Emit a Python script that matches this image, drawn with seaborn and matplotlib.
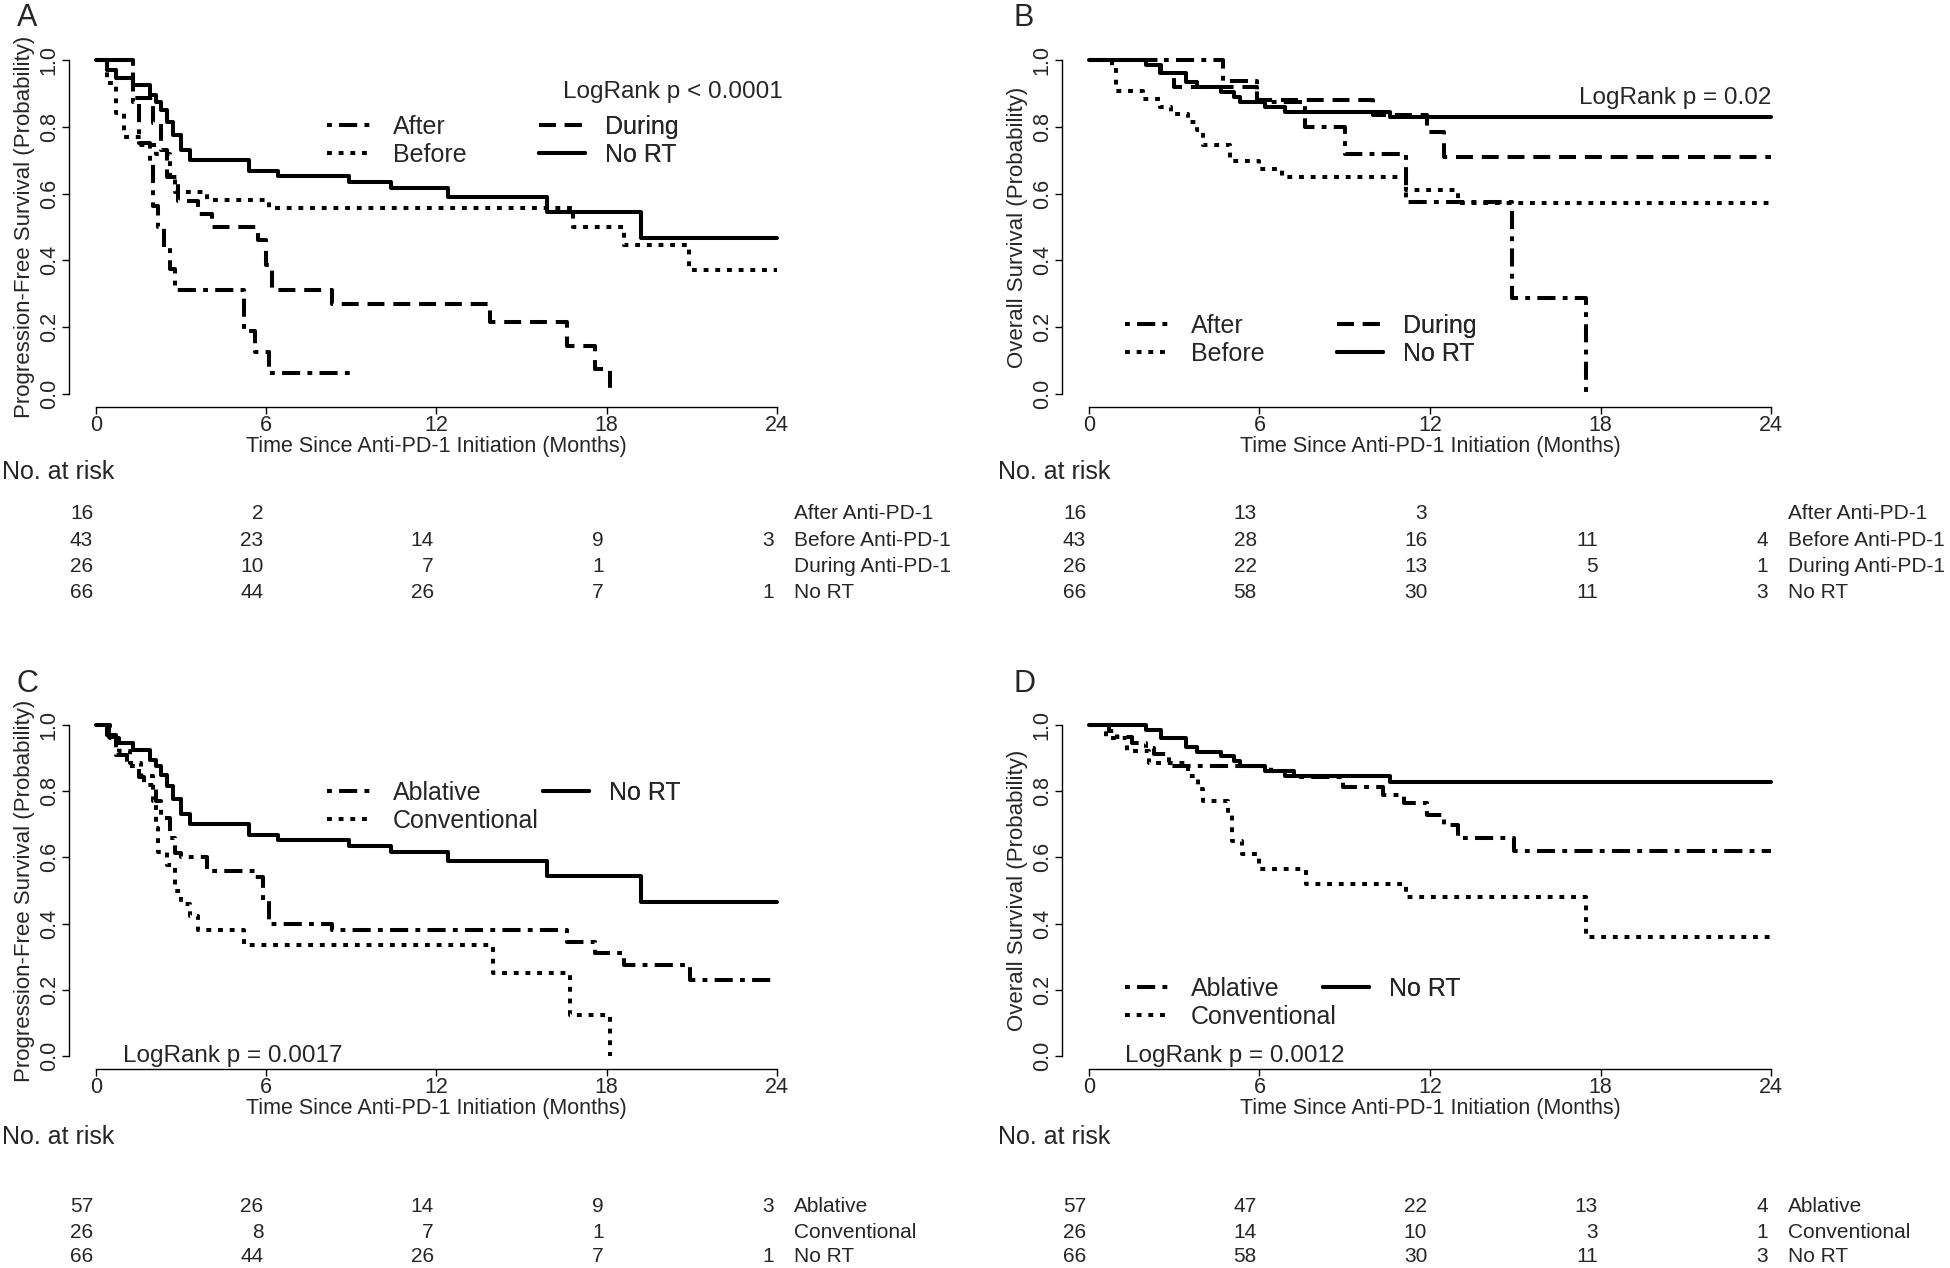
import matplotlib
matplotlib.use('Agg')
import matplotlib.pyplot as plt
import matplotlib.transforms as mtransforms
from matplotlib.lines import Line2D
import seaborn as sns

# ---------------- data ----------------
tick_months = [0, 6, 12, 18, 24]

# progression-free survival, timing groups
pfs_after_t = [0, 1.3, 1.5, 1.9, 2.0, 2.2, 2.4, 2.6, 2.8, 3.0, 5.2, 5.6, 6.1, 9.0]
pfs_after_s = [1.0, 0.875, 0.75, 0.6875, 0.5625, 0.5, 0.4375, 0.375, 0.3125, 0.3125, 0.1875, 0.125, 0.0625, 0.0625]
pfs_before_t = [0, 0.4, 0.7, 1.0, 1.6, 2.1, 2.6, 2.8, 3.9, 6.1, 16.8, 18.6, 20.9, 24]
pfs_before_s = [1.0, 0.93, 0.84, 0.77, 0.745, 0.72, 0.65, 0.605, 0.58, 0.557, 0.50, 0.445, 0.37, 0.37]
pfs_during_t = [0, 1.3, 2.0, 2.3, 2.5, 2.9, 3.6, 4.1, 5.7, 6.0, 6.2, 8.3, 13.9, 16.6, 17.6, 18.1]
pfs_during_s = [1.0, 0.885, 0.81, 0.73, 0.65, 0.577, 0.54, 0.50, 0.46, 0.385, 0.31, 0.27, 0.215, 0.145, 0.075, 0.0]
pfs_nort_t = [0, 0.4, 0.7, 1.3, 1.9, 2.1, 2.3, 2.5, 2.7, 3.0, 3.3, 5.4, 6.4, 8.9, 10.4, 12.4, 15.9, 19.2, 24]
pfs_nort_s = [1.0, 0.97, 0.945, 0.925, 0.895, 0.875, 0.85, 0.815, 0.775, 0.73, 0.70, 0.667, 0.652, 0.635, 0.617, 0.59, 0.544, 0.466, 0.466]

# overall survival, timing groups
os_after_t = [0, 4.7, 5.9, 7.6, 9.0, 11.15, 14.9, 17.5]
os_after_s = [1.0, 0.9375, 0.875, 0.80, 0.72, 0.576, 0.288, 0.0]
os_before_t = [0, 0.8, 0.95, 1.9, 2.5, 2.9, 3.5, 3.8, 4.0, 4.95, 6.0, 6.8, 11.15, 13.0, 24]
os_before_s = [1.0, 0.977, 0.907, 0.884, 0.86, 0.837, 0.814, 0.79, 0.744, 0.698, 0.674, 0.651, 0.612, 0.573, 0.573]
os_during_t = [0, 2.5, 3.0, 5.9, 10.0, 11.9, 12.5, 24]
os_during_s = [1.0, 0.96, 0.92, 0.88, 0.835, 0.785, 0.71, 0.71]
os_nort_t = [0, 2.0, 2.55, 3.4, 3.8, 4.65, 5.1, 5.3, 6.2, 6.9, 10.6, 24]
os_nort_s = [1.0, 0.985, 0.96, 0.935, 0.92, 0.905, 0.89, 0.875, 0.86, 0.845, 0.828, 0.828]

# progression-free survival, dose groups
pfs_abl_t = [0, 0.45, 0.7, 1.1, 1.5, 1.7, 2.1, 2.3, 2.6, 2.8, 3.0, 3.9, 5.6, 5.9, 6.1, 8.3, 16.6, 17.6, 18.6, 20.95, 24]
pfs_abl_s = [1.0, 0.965, 0.91, 0.877, 0.842, 0.82, 0.77, 0.72, 0.66, 0.614, 0.60, 0.56, 0.54, 0.47, 0.40, 0.38, 0.345, 0.31, 0.275, 0.23, 0.23]
pfs_conv_t = [0, 0.5, 0.8, 1.2, 1.6, 2.0, 2.1, 2.2, 2.5, 2.8, 3.0, 3.3, 3.6, 5.2, 14.0, 16.7, 18.1]
pfs_conv_s = [1.0, 0.962, 0.923, 0.885, 0.846, 0.77, 0.69, 0.615, 0.577, 0.50, 0.46, 0.423, 0.38, 0.335, 0.25, 0.125, 0.0]

# overall survival, dose groups
os_abl_t = [0, 0.7, 1.0, 1.5, 2.0, 2.3, 2.8, 6.4, 7.2, 8.95, 10.35, 11.1, 11.9, 12.5, 13.0, 14.95, 24]
os_abl_s = [1.0, 0.982, 0.965, 0.947, 0.93, 0.912, 0.877, 0.86, 0.844, 0.814, 0.79, 0.765, 0.728, 0.698, 0.658, 0.62, 0.62]
os_conv_t = [0, 0.6, 1.35, 2.1, 3.5, 3.85, 4.0, 4.9, 5.05, 5.4, 6.0, 7.65, 11.15, 17.5, 24]
os_conv_s = [1.0, 0.962, 0.923, 0.885, 0.846, 0.808, 0.77, 0.73, 0.65, 0.61, 0.565, 0.52, 0.48, 0.36, 0.36]

# numbers at risk at 0, 6, 12, 18, 24 months
risk_a = [[16, 2, None, None, None], [43, 23, 14, 9, 3], [26, 10, 7, 1, None], [66, 44, 26, 7, 1]]
risk_b = [[16, 13, 3, None, None], [43, 28, 16, 11, 4], [26, 22, 13, 5, 1], [66, 58, 30, 11, 3]]
risk_c = [[57, 26, 14, 9, 3], [26, 8, 7, 1, None], [66, 44, 26, 7, 1]]
risk_d = [[57, 47, 22, 13, 4], [26, 14, 10, 3, 1], [66, 58, 30, 11, 3]]
timing_risk_labels = ['After Anti-PD-1', 'Before Anti-PD-1', 'During Anti-PD-1', 'No RT']
dose_risk_labels = ['Ablative', 'Conventional', 'No RT']

# ---------------- style ----------------
sns.set_style('ticks')
plt.rcParams['font.family'] = ['Liberation Sans', 'DejaVu Sans']
LW = 2.9
STYLES = {
    'dotdash': (0, (1.2, 1.8, 4.5, 1.8)),
    'dotted': (0, (1.2, 1.7)),
    'dashed': (0, (4.2, 2.2)),
    'solid': '-',
}
W, H = 1950, 1268

fig = plt.figure(figsize=(19.5, 12.68), dpi=100)


def px(x, y):
    return x / W, 1 - y / H


def km_panel(rect, curves, ylabel):
    ax = fig.add_axes(rect)
    for t, s, st in curves:
        sns.lineplot(x=t, y=s, ax=ax, color='black', linewidth=LW, linestyle=STYLES[st],
                     drawstyle='steps-post', estimator=None, sort=False)
    ax.set_xlim(-0.96, 24.96)
    ax.set_ylim(-0.04, 1.04)
    ax.set_xticks(tick_months)
    ax.set_yticks([0, 0.2, 0.4, 0.6, 0.8, 1.0])
    ax.set_yticklabels(['0.0', '0.2', '0.4', '0.6', '0.8', '1.0'], rotation=90, va='center')
    for sp in ['top', 'right']:
        ax.spines[sp].set_visible(False)
    ax.spines['left'].set_bounds(0, 1)
    ax.spines['bottom'].set_bounds(0, 24)
    for sp in ['left', 'bottom']:
        ax.spines[sp].set_linewidth(1.0)
        ax.spines[sp].set_color('black')
    ax.tick_params(axis='both', labelsize=15.5, length=5, width=1.0, color='black', pad=1.5)
    ax.tick_params(axis='x', pad=0.3)
    ax.set_xlabel('Time Since Anti-PD-1 Initiation (Months)', fontsize=15.5, labelpad=0)
    ax.set_ylabel(ylabel, fontsize=16)
    ax.yaxis.set_label_coords(-0.046, 0.5)
    return ax


def legend_cols(ax, cols):
    for (xh, ytop), entries in cols:
        handles = [Line2D([], [], color='black', lw=LW, linestyle=STYLES[st]) for _, st in entries]
        lg = ax.legend(handles, [lab for lab, _ in entries], loc='upper left',
                       bbox_to_anchor=px(xh, ytop), bbox_transform=fig.transFigure,
                       frameon=False, borderpad=0, borderaxespad=0, handlelength=1.85,
                       handletextpad=0.8, labelspacing=0.15, fontsize=18)
        ax.add_artist(lg)


def risk_table(ax, rows, labels, x_head, y_head, row_y):
    trans = mtransforms.blended_transform_factory(ax.transData, fig.transFigure)
    fig.text(*px(x_head, y_head), 'No. at risk', fontsize=18, va='center', ha='left')
    for vals, lab, yy in zip(rows, labels, row_y):
        yf = 1 - yy / H
        for m, v in zip(tick_months, vals):
            if v is not None:
                ax.text(m - 0.1, yf, str(v), transform=trans, ha='right', va='center',
                        fontsize=15, clip_on=False)
        ax.text(24.6, yf, lab, transform=trans, ha='left', va='center',
                fontsize=15, clip_on=False)


rect_a = [0.03528, 0.67871, 0.37713, 0.28454]
rect_b = [0.54446, 0.67871, 0.37774, 0.28454]
rect_c = [0.03528, 0.15678, 0.37713, 0.28186]
rect_d = [0.54446, 0.15678, 0.37774, 0.28186]

# A
ax_a = km_panel(rect_a, [(pfs_after_t, pfs_after_s, 'dotdash'), (pfs_before_t, pfs_before_s, 'dotted'),
                         (pfs_during_t, pfs_during_s, 'dashed'), (pfs_nort_t, pfs_nort_s, 'solid')],
                'Progression-Free Survival (Probability)')
legend_cols(ax_a, [((327, 115), [('After', 'dotdash'), ('Before', 'dotted')]),
                   ((539, 115), [('During', 'dashed'), ('No RT', 'solid')])])
ax_a.text(24.2, 0.905, 'LogRank p < 0.0001', ha='right', va='center', fontsize=17.5)
risk_table(ax_a, risk_a, timing_risk_labels, 2, 472, [514, 540, 566, 592])

# B
ax_b = km_panel(rect_b, [(os_after_t, os_after_s, 'dotdash'), (os_before_t, os_before_s, 'dotted'),
                         (os_during_t, os_during_s, 'dashed'), (os_nort_t, os_nort_s, 'solid')],
                'Overall Survival (Probability)')
legend_cols(ax_b, [((1125, 314), [('After', 'dotdash'), ('Before', 'dotted')]),
                   ((1337, 314), [('During', 'dashed'), ('No RT', 'solid')])])
ax_b.text(24.0, 0.885, 'LogRank p = 0.02', ha='right', va='center', fontsize=17.5)
risk_table(ax_b, risk_b, timing_risk_labels, 998, 472, [514, 540, 566, 592])

# C
ax_c = km_panel(rect_c, [(pfs_abl_t, pfs_abl_s, 'dotdash'), (pfs_conv_t, pfs_conv_s, 'dotted'),
                         (pfs_nort_t, pfs_nort_s, 'solid')],
                'Progression-Free Survival (Probability)')
legend_cols(ax_c, [((327, 781), [('Ablative', 'dotdash'), ('Conventional', 'dotted')]),
                   ((543, 781), [('No RT', 'solid')])])
ax_c.text(0.95, 0.0, 'LogRank p = 0.0017', ha='left', va='center', fontsize=17.5)
risk_table(ax_c, risk_c, dose_risk_labels, 2, 1137, [1206, 1232, 1257])

# D
ax_d = km_panel(rect_d, [(os_abl_t, os_abl_s, 'dotdash'), (os_conv_t, os_conv_s, 'dotted'),
                         (os_nort_t, os_nort_s, 'solid')],
                'Overall Survival (Probability)')
legend_cols(ax_d, [((1125, 977), [('Ablative', 'dotdash'), ('Conventional', 'dotted')]),
                   ((1323, 977), [('No RT', 'solid')])])
ax_d.text(1.27, 0.0, 'LogRank p = 0.0012', ha='left', va='center', fontsize=17.5)
risk_table(ax_d, risk_d, dose_risk_labels, 998, 1137, [1206, 1232, 1257])

# panel letters
for letter, (x, y) in zip('ABCD', [(17, 26), (1013, 26), (17, 692), (1013, 692)]):
    fig.text(*px(x, y), letter, fontsize=22, va='baseline', ha='left')

fig.savefig('out.png', dpi=100, facecolor='white')
